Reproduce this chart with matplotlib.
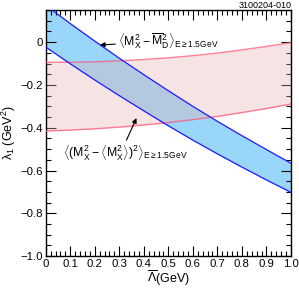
import matplotlib
matplotlib.use("Agg")
import matplotlib.pyplot as plt
from matplotlib.ticker import MultipleLocator

plt.rcParams['font.family'] = ['Liberation Sans', 'DejaVu Sans']
plt.rcParams['mathtext.fontset'] = 'custom'
plt.rcParams['mathtext.rm'] = 'Liberation Sans'
plt.rcParams['mathtext.it'] = 'Liberation Sans'
plt.rcParams['mathtext.bf'] = 'Liberation Sans:bold'

lam_bar = [0.0, 0.1, 0.2, 0.3, 0.4, 0.5, 0.6, 0.7, 0.8, 0.9, 1.0]
blue_upper = [0.172, 0.087, 0.005, -0.075, -0.152, -0.227, -0.300, -0.370, -0.437, -0.502, -0.566]
blue_lower = [-0.023, -0.101, -0.177, -0.250, -0.321, -0.391, -0.458, -0.522, -0.584, -0.644, -0.702]
pink_upper = [-0.094, -0.094, -0.092, -0.087, -0.081, -0.073, -0.063, -0.051, -0.036, -0.020, -0.002]
pink_lower = [-0.415, -0.411, -0.405, -0.397, -0.387, -0.376, -0.362, -0.347, -0.329, -0.310, -0.289]
x_ticks = [0, 0.1, 0.2, 0.3, 0.4, 0.5, 0.6, 0.7, 0.8, 0.9, 1.0]
x_ticklabels = ['0', '0.1', '0.2', '0.3', '0.4', '0.5', '0.6', '0.7', '0.8', '0.9', '1.0']
y_ticks = [-1.0, -0.8, -0.6, -0.4, -0.2, 0.0]
y_ticklabels = ['\u22121.0', '\u22120.8', '\u22120.6', '\u22120.4', '\u22120.2', '0']

fig = plt.figure(figsize=(2.99, 2.91), dpi=100)
ax = fig.add_axes([0.153, 0.12, 0.82, 0.846])

ax.fill_between(lam_bar, blue_lower, blue_upper, color='#99d6fa', lw=0, zorder=1)
ax.fill_between(lam_bar, pink_lower, pink_upper, color='#e8b0b0', alpha=0.35, lw=0, zorder=2)
ax.plot(lam_bar, pink_upper, color='#ff5577', lw=1.0, alpha=0.75, zorder=3)
ax.plot(lam_bar, pink_lower, color='#ff5577', lw=1.0, alpha=0.75, zorder=3)
ax.plot(lam_bar, blue_upper, color='#1a1aff', lw=0.9, zorder=4)
ax.plot(lam_bar, blue_lower, color='#1a1aff', lw=0.9, zorder=4)

ax.set_xlim(0, 1.0)
ax.set_ylim(-1.0, 0.151)
ax.set_xticks(x_ticks)
ax.set_xticklabels(x_ticklabels)
ax.set_yticks(y_ticks)
ax.set_yticklabels(y_ticklabels)
ax.xaxis.set_minor_locator(MultipleLocator(0.02))
ax.yaxis.set_minor_locator(MultipleLocator(0.05))
ax.tick_params(which='both', direction='in', top=True, right=True, labelsize=8.2, width=0.8)
ax.tick_params(which='major', length=7, pad=2)
ax.tick_params(which='minor', length=3.5)
for s in ax.spines.values():
    s.set_linewidth(1.0)

ax.set_xlabel(r'$\overline{\Lambda}$(GeV)', fontsize=9, labelpad=0)
ax.set_ylabel(r'$\lambda_1$ (GeV$^2$)', fontsize=9, labelpad=2)

ax.annotate(r'$\left\langle \mathrm{M}_\mathrm{X}^2 - \overline{\mathrm{M}}_\mathrm{D}^2\right\rangle_{\mathrm{E}\geq 1.5\mathrm{GeV}}$',
            xy=(0.221, -0.013), xytext=(0.295, 0.005), fontsize=8.8,
            ha='left', va='center', zorder=6,
            arrowprops=dict(arrowstyle='-|>', color='black', lw=0.8, mutation_scale=7, shrinkA=0, shrinkB=0))
ax.annotate(r'$\left\langle(\mathrm{M}_\mathrm{X}^2 - \left\langle \mathrm{M}_\mathrm{X}^2\right\rangle)^2\right\rangle_{\mathrm{E}\geq 1.5\mathrm{GeV}}$',
            xy=(0.37, -0.355), xytext=(0.07, -0.515), fontsize=8.8,
            ha='left', va='center', zorder=6,
            arrowprops=dict(arrowstyle='-|>', color='black', lw=0.8, mutation_scale=7, shrinkA=0, shrinkB=0,
                            relpos=(0.5, 1.0)))

fig.text(0.975, 0.995, '3100204-010', ha='right', va='top', fontsize=6.5)

fig.savefig('out.png', dpi=100)
